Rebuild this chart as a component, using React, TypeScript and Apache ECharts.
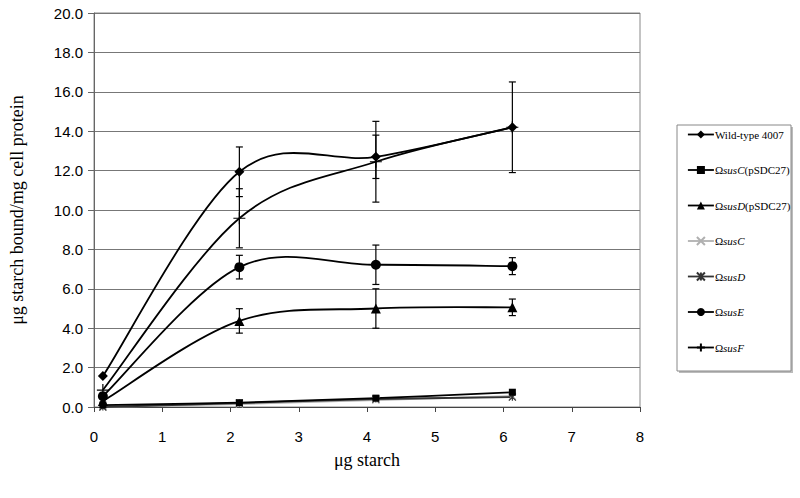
import React, { useEffect, useRef } from "react";
import * as echarts from "echarts";

const xValues = [0.13, 2.13, 4.13, 6.13];
const wildType = [1.57, 11.94, 12.7, 14.2];
const wildTypeErr = [0, 1.26, 1.1, 0];
const susCp = [0.1, 0.22, 0.45, 0.75];
const susDp = [0.3, 4.37, 5.0, 5.06];
const susDpErr = [0, 0.62, 1.0, 0.42];
const susC = [0.0, 0.15, 0.35, 0.55];
const susD = [0.0, 0.2, 0.4, 0.5];
const susE = [0.55, 7.1, 7.22, 7.15];
const susEErr = [0, 0.6, 1.0, 0.43];
const susF = [0.86, 9.58, 12.45, 14.2];
const susFErr = [0, 1.5, 2.05, 2.3];

const xTicks = [0, 1, 2, 3, 4, 5, 6, 7, 8];

const CROSS = "path://M0,0L10,10M10,0L0,10";
const PLUS = "path://M5,0L5,10M0,5L10,5";
const STAR = "path://M0,0L10,10M10,0L0,10M5,0L5,10";

const names = ["wt", "cp", "dp", "c", "d", "e", "f"];

export default function App() {
  const ref = useRef<HTMLDivElement>(null);
  useEffect(() => {
    if (!ref.current) return;
    const chart = echarts.init(ref.current, undefined, { renderer: "svg" });
    const pts = (ys: number[]) => xValues.map((x, i) => [x, ys[i]]);
    const errData: number[][] = [];
    const addErr = (ys: number[], es: number[]) =>
      ys.forEach((y, i) => {
        if (es[i] > 0) errData.push([xValues[i], y - es[i], y + es[i]]);
      });
    addErr(wildType, wildTypeErr);
    addErr(susDp, susDpErr);
    addErr(susE, susEErr);
    addErr(susF, susFErr);

    const markers = (
      id: string,
      data: number[],
      symbol: string,
      color: string,
      size: number,
      z: number
    ) => ({
      type: "line",
      name: id,
      data: pts(data),
      symbol,
      symbolSize: size,
      showAllSymbol: true,
      z,
      lineStyle: { color, width: 1.8, opacity: 0 },
      itemStyle: { color, borderColor: color, borderWidth: symbol.startsWith("path") ? 1.2 : 0 },
    });

    // smooth curve (Excel-like Bezier) through the data points, via the axes' scales
    const curve = (data: number[], color: string, z: number) => ({
      type: "custom",
      name: "curve",
      data: pts(data),
      z,
      silent: true,
      renderItem: (params: any, api: any) => {
        const i = params.dataIndex;
        const n = data.length;
        if (i >= n - 1) return null;
        const P = (k: number) => {
          const kk = Math.max(0, Math.min(n - 1, k));
          return api.coord([xValues[kk], data[kk]]);
        };
        const p0 = P(i - 1), p1 = P(i), p2 = P(i + 1), p3 = P(i + 2);
        const c1 = [p1[0] + (p2[0] - p0[0]) / 6, p1[1] + (p2[1] - p0[1]) / 6];
        const c2 = [p2[0] - (p3[0] - p1[0]) / 6, p2[1] - (p3[1] - p1[1]) / 6];
        return {
          type: "bezierCurve",
          shape: { x1: p1[0], y1: p1[1], cpx1: c1[0], cpy1: c1[1], cpx2: c2[0], cpy2: c2[1], x2: p2[0], y2: p2[1] },
          style: { stroke: color, lineWidth: 1.8, fill: "none" },
        };
      },
    });

    const rich = {
      n: { fontFamily: "Liberation Serif", fontSize: 11, color: "#000" },
      i: { fontFamily: "Liberation Serif", fontSize: 11, fontStyle: "italic", color: "#000" },
    };
    const labels: Record<string, string> = {
      wt: "{n|Wild-type 4007}",
      cp: "{n|Ω}{i|susC}{n|(pSDC27)}",
      dp: "{n|Ω}{i|susD}{n|(pSDC27)}",
      c: "{n|Ω}{i|susC}",
      d: "{n|Ω}{i|susD}",
      e: "{n|Ω}{i|susE}",
      f: "{n|Ω}{i|susF}",
    };
    const legendColors: Record<string, string> = {
      wt: "#000", cp: "#000", dp: "#000", c: "#b0b0b0", d: "#333", e: "#000", f: "#000",
    };

    chart.setOption({
      animation: false,
      grid: {
        left: 92,
        right: 160,
        top: 13,
        bottom: 91,
        show: true,
        borderColor: "#888",
        borderWidth: 1,
        backgroundColor: "transparent",
      },
      xAxis: {
        type: "value",
        min: 0,
        max: 8,
        interval: 1,
        name: "μg starch",
        nameLocation: "middle",
        nameGap: 44,
        nameTextStyle: { fontFamily: "Liberation Serif", fontSize: 18, color: "#000" },
        axisLine: { lineStyle: { color: "#444", width: 1 } },
        axisTick: { show: true, length: 5, lineStyle: { color: "#444" } },
        splitLine: { show: false },
        axisLabel: {
          fontFamily: "Liberation Sans",
          fontSize: 15,
          color: "#000",
          margin: 22,
          formatter: (v: number) => (xTicks.includes(v) ? String(v) : ""),
        },
      },
      yAxis: {
        type: "value",
        min: 0,
        max: 20,
        interval: 2,
        name: "μg starch bound/mg cell protein",
        nameLocation: "middle",
        nameGap: 68,
        nameTextStyle: { fontFamily: "Liberation Serif", fontSize: 18, color: "#000" },
        axisLine: { show: true, lineStyle: { color: "#666", width: 1 } },
        axisTick: { show: true, length: 6, lineStyle: { color: "#666" } },
        splitLine: { show: true, lineStyle: { color: "#777", width: 1 } },
        axisLabel: {
          fontFamily: "Liberation Sans",
          fontSize: 15,
          color: "#000",
          margin: 11,
          formatter: (v: number) => v.toFixed(1),
        },
      },
      legend: {
        orient: "vertical",
        left: 682,
        top: 124,
        itemWidth: 26,
        itemHeight: 10,
        itemGap: 24.5,
        data: names.map((n) => ({
          name: n,
          lineStyle: { opacity: 1, color: legendColors[n], width: 1.8 },
        })),
        formatter: (n: string) => labels[n],
        textStyle: { rich, padding: [0, 0, 0, -4] },
      },
      graphic: [
        {
          type: "rect",
          shape: { x: 679, y: 127, width: 114, height: 246 },
          style: { fill: "#bbb" },
          z: -10,
        },
        {
          type: "rect",
          shape: { x: 677, y: 125, width: 114, height: 246 },
          style: { fill: "#fff", stroke: "#888", lineWidth: 1 },
          z: -9,
        },
      ],
      series: [
        markers("wt", wildType, "diamond", "#000", 10, 5),
        markers("cp", susCp, "rect", "#000", 7, 5),
        markers("dp", susDp, "triangle", "#000", 10, 5),
        markers("c", susC, CROSS, "#b0b0b0", 7, 4),
        markers("d", susD, STAR, "#333", 7, 4),
        markers("e", susE, "circle", "#000", 10, 5),
        markers("f", susF, PLUS, "#000", 12, 6),
        curve(wildType, "#000", 2),
        curve(susCp, "#000", 2),
        curve(susDp, "#000", 2),
        curve(susC, "#b0b0b0", 1),
        curve(susD, "#333", 1),
        curve(susE, "#000", 2),
        curve(susF, "#000", 2),
        {
          type: "custom",
          name: "err",
          data: errData,
          z: 3,
          silent: true,
          renderItem: (params: any, api: any) => {
            const x = api.value(0);
            const lo = api.coord([x, api.value(1)]);
            const hi = api.coord([x, api.value(2)]);
            const w = 3.5;
            const st = { stroke: "#000", lineWidth: 1.2 };
            return {
              type: "group",
              children: [
                { type: "line", shape: { x1: lo[0], y1: lo[1], x2: hi[0], y2: hi[1] }, style: st },
                { type: "line", shape: { x1: lo[0] - w, y1: lo[1], x2: lo[0] + w, y2: lo[1] }, style: st },
                { type: "line", shape: { x1: hi[0] - w, y1: hi[1], x2: hi[0] + w, y2: hi[1] }, style: st },
              ],
            };
          },
        },
      ],
    });
    return () => chart.dispose();
  }, []);
  return <div ref={ref} style={{ width: 800, height: 498, position: "absolute", left: 0, top: 0 }} />;
}
